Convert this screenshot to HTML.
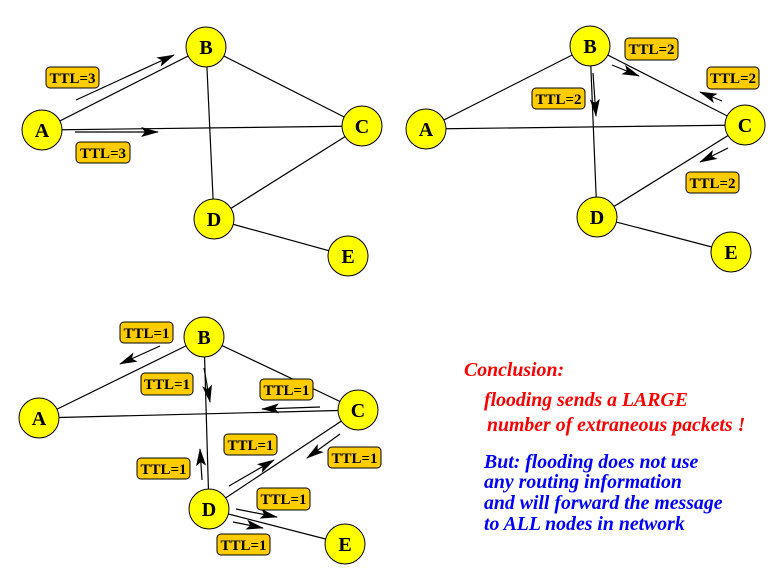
<!DOCTYPE html>
<html><head><meta charset="utf-8"><style>
html,body{margin:0;padding:0;background:#fff;width:784px;height:579px;overflow:hidden}
svg{display:block}
.n{fill:#ffff00;stroke:#000;stroke-width:1}
.nt{font-family:"Liberation Serif",serif;font-weight:bold;font-size:20px;text-anchor:middle}
.lb{fill:#ffcc00;stroke:#000;stroke-width:1}
.lt{font-family:"Liberation Serif",serif;font-weight:bold;font-size:15px;text-anchor:middle}
.e{stroke:#000;stroke-width:1.2;fill:none}
.a{stroke:#000;stroke-width:1.2;fill:none;marker-end:url(#ah)}
.c{font-family:"Liberation Serif",serif;font-weight:bold;font-style:italic;font-size:19.8px}
</style></head><body>
<svg width="784" height="579" viewBox="0 0 784 579">
<defs><marker id="ah" markerWidth="18" markerHeight="10" refX="17" refY="5" orient="auto" markerUnits="userSpaceOnUse"><path d="M0,0 L18,5 L0,10 L4,5 z" fill="#000"/></marker></defs>

<!-- Panel 1 -->
<g>
<line class="e" x1="42" y1="130" x2="206" y2="47"/>
<line class="e" x1="42" y1="130" x2="362" y2="126"/>
<line class="e" x1="206" y1="47" x2="362" y2="126"/>
<line class="e" x1="206" y1="47" x2="214" y2="219"/>
<line class="e" x1="214" y1="219" x2="362" y2="126"/>
<line class="e" x1="214" y1="219" x2="348" y2="256"/>
<line class="a" x1="76" y1="100" x2="174" y2="55"/>
<line class="a" x1="75" y1="132" x2="158" y2="132"/>
<rect class="lb" x="46" y="67" width="53" height="21" rx="4"/><text class="lt" x="72.5" y="83">TTL=3</text>
<rect class="lb" x="76" y="142" width="54" height="21" rx="4"/><text class="lt" x="103" y="158">TTL=3</text>
<circle class="n" cx="42" cy="130" r="20"/><text class="nt" x="42" y="137">A</text>
<circle class="n" cx="206" cy="47" r="20"/><text class="nt" x="206" y="54">B</text>
<circle class="n" cx="362" cy="126" r="20"/><text class="nt" x="362" y="133">C</text>
<circle class="n" cx="214" cy="219" r="20"/><text class="nt" x="214" y="226">D</text>
<circle class="n" cx="348" cy="256" r="20"/><text class="nt" x="348" y="263">E</text>
</g>

<!-- Panel 2 -->
<g>
<line class="e" x1="426" y1="129" x2="590" y2="46"/>
<line class="e" x1="426" y1="129" x2="745" y2="125"/>
<line class="e" x1="590" y1="46" x2="745" y2="125"/>
<line class="e" x1="590" y1="46" x2="597" y2="217"/>
<line class="e" x1="597" y1="217" x2="745" y2="125"/>
<line class="e" x1="597" y1="217" x2="731" y2="252"/>
<line class="a" x1="612" y1="65" x2="639" y2="76"/>
<line class="a" x1="722" y1="101" x2="700" y2="92"/>
<line class="a" x1="593" y1="73" x2="596" y2="116"/>
<line class="a" x1="728" y1="148" x2="700" y2="162"/>
<rect class="lb" x="625" y="38" width="53" height="22" rx="4"/><text class="lt" x="651.5" y="54">TTL=2</text>
<rect class="lb" x="707" y="67" width="52" height="22" rx="4"/><text class="lt" x="733" y="83">TTL=2</text>
<rect class="lb" x="532" y="88" width="53" height="21" rx="4"/><text class="lt" x="558.5" y="104">TTL=2</text>
<rect class="lb" x="686" y="172" width="53" height="21" rx="4"/><text class="lt" x="712.5" y="188">TTL=2</text>
<circle class="n" cx="426" cy="129" r="20"/><text class="nt" x="426" y="136">A</text>
<circle class="n" cx="590" cy="46" r="20"/><text class="nt" x="590" y="53">B</text>
<circle class="n" cx="745" cy="125" r="20"/><text class="nt" x="745" y="132">C</text>
<circle class="n" cx="597" cy="217" r="20"/><text class="nt" x="597" y="224">D</text>
<circle class="n" cx="731" cy="252" r="20"/><text class="nt" x="731" y="259">E</text>
</g>

<!-- Panel 3 -->
<g>
<line class="e" x1="39" y1="418" x2="204" y2="337"/>
<line class="e" x1="39" y1="418" x2="358" y2="410"/>
<line class="e" x1="204" y1="337" x2="358" y2="410"/>
<line class="e" x1="204" y1="337" x2="209" y2="509"/>
<line class="e" x1="209" y1="509" x2="358" y2="410"/>
<line class="e" x1="209" y1="509" x2="345" y2="544"/>
<line class="a" x1="160" y1="346" x2="120" y2="364"/>
<line class="a" x1="204" y1="368" x2="210" y2="402"/>
<line class="a" x1="320" y1="407" x2="262" y2="409"/>
<line class="a" x1="202" y1="480" x2="200" y2="449"/>
<line class="a" x1="229" y1="486" x2="274" y2="460"/>
<line class="a" x1="340" y1="434" x2="307" y2="458"/>
<line class="a" x1="236" y1="509" x2="277" y2="517"/>
<line class="a" x1="233" y1="522" x2="263" y2="528"/>
<rect class="lb" x="120" y="322" width="53" height="21" rx="4"/><text class="lt" x="146.5" y="338">TTL=1</text>
<rect class="lb" x="141" y="373" width="52" height="22" rx="4"/><text class="lt" x="167" y="389">TTL=1</text>
<rect class="lb" x="260" y="379" width="53" height="21" rx="4"/><text class="lt" x="286.5" y="395">TTL=1</text>
<rect class="lb" x="224" y="434" width="53" height="21" rx="4"/><text class="lt" x="250.5" y="450">TTL=1</text>
<rect class="lb" x="137" y="458" width="53" height="21" rx="4"/><text class="lt" x="163.5" y="474">TTL=1</text>
<rect class="lb" x="328" y="447" width="53" height="21" rx="4"/><text class="lt" x="354.5" y="463">TTL=1</text>
<rect class="lb" x="257" y="488" width="53" height="22" rx="4"/><text class="lt" x="283.5" y="504">TTL=1</text>
<rect class="lb" x="217" y="534" width="53" height="21" rx="4"/><text class="lt" x="243.5" y="550">TTL=1</text>
<circle class="n" cx="39" cy="418" r="20"/><text class="nt" x="39" y="425">A</text>
<circle class="n" cx="204" cy="337" r="20"/><text class="nt" x="204" y="344">B</text>
<circle class="n" cx="358" cy="410" r="20"/><text class="nt" x="358" y="417">C</text>
<circle class="n" cx="209" cy="509" r="20"/><text class="nt" x="209" y="516">D</text>
<circle class="n" cx="345" cy="544" r="20"/><text class="nt" x="345" y="551">E</text>
</g>

<!-- Conclusion -->
<text class="c" x="464" y="376" fill="#ff0000">Conclusion:</text>
<text class="c" x="484" y="406" fill="#ff0000">flooding sends a LARGE</text>
<text class="c" x="487" y="431" fill="#ff0000">number of extraneous packets !</text>
<text class="c" x="484" y="468" fill="#0000ff">But: flooding does not use</text>
<text class="c" x="484" y="488" fill="#0000ff">any routing information</text>
<text class="c" x="484" y="509" fill="#0000ff">and will forward the message</text>
<text class="c" x="484" y="530" fill="#0000ff">to ALL nodes in network</text>
</svg>
</body></html>
